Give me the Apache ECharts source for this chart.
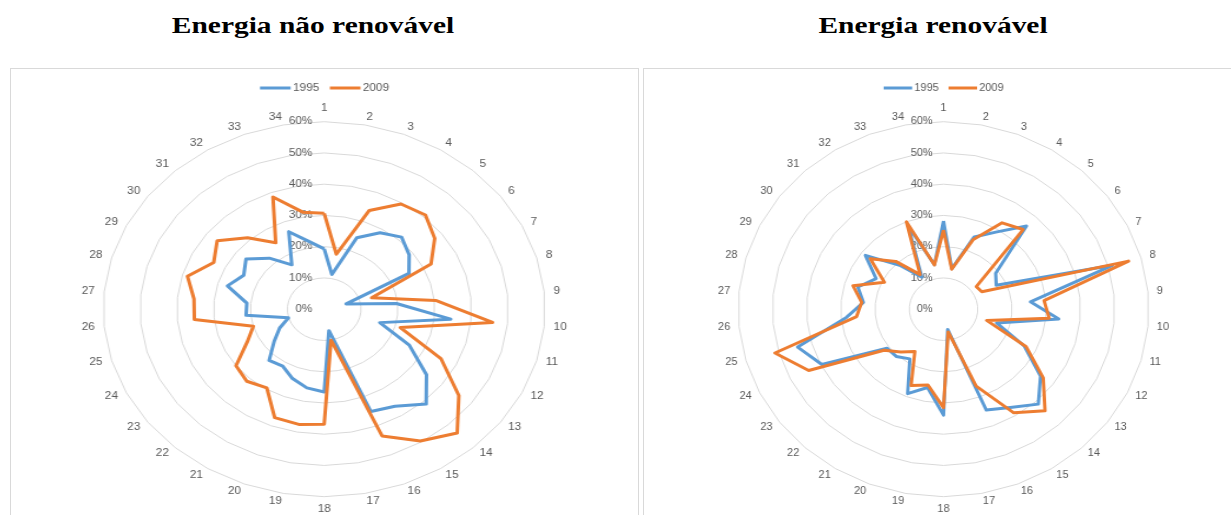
<!DOCTYPE html>
<html>
<head>
<meta charset="utf-8">
<title>Energia não renovável / Energia renovável</title>
<script src="https://cdn.jsdelivr.net/npm/echarts@6/dist/echarts.min.js"></script>
<style>
  html, body { margin: 0; padding: 0; background: #fff; }
  body { position: relative; width: 1231px; height: 515px; overflow: hidden; }
  .title {
    position: absolute; top: 14px;
    font: bold 23px "Liberation Serif", "Times New Roman", serif;
    line-height: 23px; color: #000; white-space: nowrap;
    transform-origin: 50% 50%;
    transform: translateX(-50%) scaleX(1.28);
  }
  .panel {
    position: absolute; top: 68px; height: 470px;
    border: 1px solid #d9d9d9; box-sizing: border-box;
  }
  .chart { position: absolute; top: 69px; height: 446px; transform-origin: 0 0; }
</style>
</head>
<body>
<div class="title" style="left:312.5px">Energia não renovável</div>
<div class="title" style="left:932.5px">Energia renovável</div>

<div class="panel" style="left:10px; width:629px"></div>
<div class="panel" style="left:643px; width:620px"></div>

<div id="chartNaoRenovavel" class="chart" style="left:11px; width:532px; transform:scaleX(1.1787)"></div>
<div id="chartRenovavel" class="chart" style="left:644px; width:547px; transform:scaleX(1.0955)"></div>

<script>
// Indicator names, listed clockwise from the top
const axisNames = ['1','2','3','4','5','6','7','8','9','10','11','12','13','14','15','16','17',
                   '18','19','20','21','22','23','24','25','26','27','28','29','30','31','32','33','34'];

const years = ['1995', '2009'];
const yearColors = ['#5B9BD5', '#ED7D31'];

// Share (%) per indicator – non-renewable energy
const naoRenovavel1995 = [19.3, 11.3, 24.5, 28.8, 31.2, 28.9, 25.7, 6.2, 19.7, 34.5, 15.7, 25.8, 34.8, 41.1, 36.5, 35.1, 7.0,
                          26.5, 25.6, 23.8, 21.4, 22.2, 17.0, 13.5, 10.1, 21.3, 21.1, 27.3, 24.4, 26.6, 22.1, 16.7, 26.6, 22.0];
const naoRenovavel2009 = [30.7, 17.9, 33.9, 39.6, 40.8, 37.6, 32.4, 13.4, 30.4, 45.9, 21.5, 35.4, 45.8, 53.6, 49.6, 43.5, 10.1,
                          36.8, 37.5, 37.2, 29.6, 31.2, 30.0, 23.3, 20.0, 35.4, 35.5, 38.6, 33.5, 36.4, 30.9, 25.0, 38.5, 31.6];

// Share (%) per indicator – renewable energy
const renovavel1995 = [28.2, 13.2, 24.8, 29.0, 36.0, 19.1, 17.2, 51.3, 25.5, 33.8, 16.1, 26.3, 35.5, 41.1, 37.0, 34.6, 6.6,
                       33.9, 25.5, 29.0, 18.7, 20.5, 20.7, 39.7, 44.3, 28.5, 23.5, 26.0, 22.0, 28.6, 19.0, 12.0, 28.5, 14.5];
const renovavel2009 = [25.3, 13.0, 23.8, 32.5, 34.5, 12.0, 12.5, 56.2, 29.5, 31.0, 13.1, 27.0, 36.5, 44.0, 39.0, 26.4, 7.4,
                       31.5, 24.7, 26.2, 15.9, 18.5, 21.8, 44.0, 51.2, 25.5, 24.0, 27.5, 19.3, 26.8, 20.7, 13.0, 30.0, 14.4];

// Radial scale: 0% .. 60% in steps of 10%
const scaleMin = 0;
const scaleMax = 60;
const scaleSteps = 6;

// ECharts lays indicators out counter-clockwise, so feed them in reverse after the first
const order = axisNames.map((_, i) => (i === 0 ? 0 : axisNames.length - i));
const reorder = arr => order.map(k => arr[k]);

const textFont = '"Liberation Sans", Arial, sans-serif';
const textColor = '#595959';

function buildOption(values1995, values2009, cx) {
  const sets = [values1995, values2009];
  return {
    animation: false,
    legend: {
      top: 9,
      left: 'center',
      icon: 'rect',
      itemWidth: 26,
      itemHeight: 3,
      itemGap: 9,
      data: years,
      textStyle: { color: textColor, fontSize: 10, fontFamily: textFont, padding: [0, 0, 0, -3] }
    },
    radar: {
      center: [cx, 240.2],
      radius: 187.5,
      startAngle: 90,
      shape: 'polygon',
      splitNumber: scaleSteps,
      nameGap: 8,
      axisName: { color: textColor, fontSize: 10, fontFamily: textFont },
      axisLine: { show: false },
      axisTick: { show: false },
      axisLabel: { show: false },
      splitLine: { lineStyle: { color: '#d9d9d9', width: 1 } },
      splitArea: { show: false },
      indicator: order.map((k, i) => {
        const ind = { name: axisNames[k], min: scaleMin, max: scaleMax };
        if (i === 0) {
          ind.axisLabel = {
            show: true,
            color: textColor,
            fontSize: 10,
            fontFamily: textFont,
            margin: 10,
            formatter: '{value}%'
          };
        }
        return ind;
      })
    },
    series: [{
      type: 'radar',
      symbol: 'none',
      data: years.map((y, i) => ({
        name: y,
        value: reorder(sets[i]),
        lineStyle: { color: yearColors[i], width: 3 },
        itemStyle: { color: yearColors[i] }
      }))
    }]
  };
}

const chartA = echarts.init(document.getElementById('chartNaoRenovavel'), null, { renderer: 'canvas' });
chartA.setOption(buildOption(naoRenovavel1995, naoRenovavel2009, 265.7));

const chartB = echarts.init(document.getElementById('chartRenovavel'), null, { renderer: 'canvas' });
chartB.setOption(buildOption(renovavel1995, renovavel2009, 273.4));
</script>
</body>
</html>
